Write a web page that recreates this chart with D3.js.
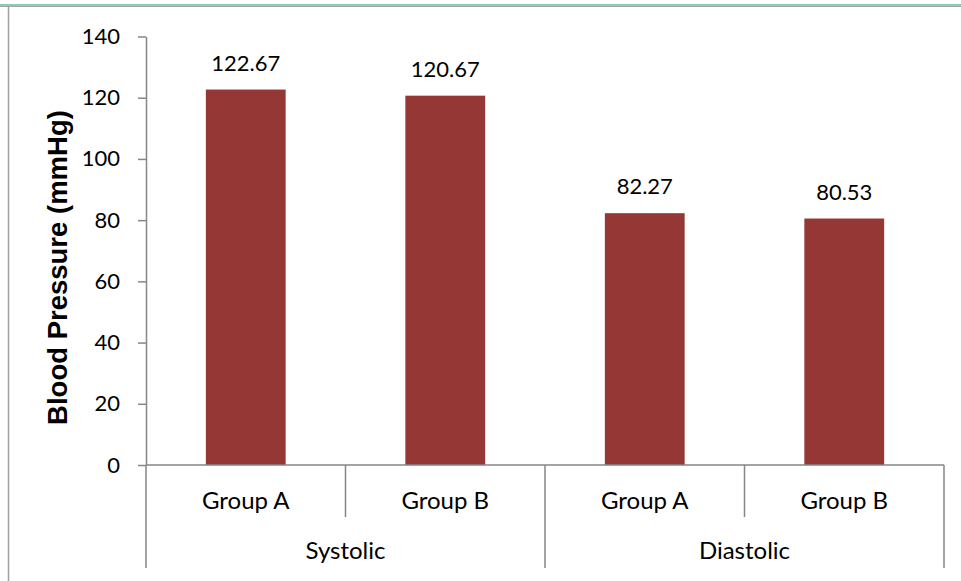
<!DOCTYPE html>
<html>
<head>
<meta charset="utf-8">
<script src="https://cdn.jsdelivr.net/npm/d3@7"></script>
<style>
  html, body { margin: 0; padding: 0; background: #fff; }
  svg { display: block; }
</style>
</head>
<body>
<svg id="chart" width="961" height="581"></svg>
<script>
// ---- data ----
const categories = ["Systolic", "Diastolic"];
const groups = ["Group A", "Group B"];
const systolicValues = [122.67, 120.67];
const diastolicValues = [82.27, 80.53];
const yTicks = [0, 20, 40, 60, 80, 100, 120, 140];
const yTitle = "Blood Pressure (mmHg)";

(function () {
const seriesByCategory = [systolicValues, diastolicValues];
const rows = [];
categories.forEach((c, ci) => groups.forEach((g, gi) => rows.push({cat: c, grp: g, key: c + "|" + g, value: seriesByCategory[ci][gi]})));

const svg = d3.select("#chart");
const W = 961, H = 581;
const plotLeft = 146, plotRight = 944, plotTop = 36.5, plotBottom = 465;
const axisColor = "#868686";
const font = "Lato, 'Open Sans', sans-serif";

// frame
svg.append("line").attr("x1", 0).attr("x2", W).attr("y1", 5).attr("y2", 5).attr("stroke", "#5fbf98").attr("stroke-width", 1.5);
svg.append("line").attr("x1", 0).attr("x2", W).attr("y1", 6.5).attr("y2", 6.5).attr("stroke", "#a6a6a6").attr("stroke-width", 1);
svg.append("line").attr("x1", 8.5).attr("x2", 8.5).attr("y1", 6).attr("y2", H).attr("stroke", "#a0a0a0").attr("stroke-width", 1.5);

const x = d3.scaleBand().domain(rows.map(d => d.key)).range([plotLeft, plotRight]).paddingInner(0.6).paddingOuter(0.3);
const xCat = d3.scaleBand().domain(categories).range([plotLeft, plotRight]);
const y = d3.scaleLinear().domain([0, 140]).range([plotBottom, plotTop]);

// bars
svg.append("g").selectAll("rect").data(rows).join("rect")
  .attr("x", d => x(d.key)).attr("width", x.bandwidth())
  .attr("y", d => y(d.value)).attr("height", d => y(0) - y(d.value))
  .attr("fill", "#953735");

// value labels
svg.append("g").selectAll("text").data(rows).join("text")
  .attr("x", d => x(d.key) + x.bandwidth() / 2)
  .attr("y", d => y(d.value) - 19)
  .attr("text-anchor", "middle")
  .attr("font-family", font).attr("font-size", 22).attr("fill", "#000")
  .text(d => d.value.toFixed(2));

// y axis
const yAxis = svg.append("g").attr("transform", `translate(${plotLeft},0)`)
  .call(d3.axisLeft(y).tickValues(yTicks).tickSize(8).tickSizeOuter(0).tickPadding(18));
yAxis.selectAll("path, line").attr("stroke", axisColor).attr("stroke-width", 1.5);
yAxis.selectAll("text").attr("font-family", font).attr("font-size", 22).attr("fill", "#000");

// x axis baseline
svg.append("line").attr("x1", plotLeft).attr("x2", plotRight).attr("y1", plotBottom).attr("y2", plotBottom)
  .attr("stroke", axisColor).attr("stroke-width", 1.5);

// inner group dividers
categories.forEach(c => {
  const mid = xCat(c) + xCat.bandwidth() / 2;
  svg.append("line").attr("x1", mid).attr("x2", mid).attr("y1", plotBottom).attr("y2", 517)
    .attr("stroke", axisColor).attr("stroke-width", 1.5);
});
// category boundaries
const bounds = categories.map(c => xCat(c)).concat([plotRight]);
svg.append("g").selectAll("line").data(bounds).join("line")
  .attr("x1", d => d).attr("x2", d => d).attr("y1", plotBottom).attr("y2", 568)
  .attr("stroke", axisColor).attr("stroke-width", 1.5);

// group labels
svg.append("g").selectAll("text").data(rows).join("text")
  .attr("x", d => x(d.key) + x.bandwidth() / 2).attr("y", 509)
  .attr("text-anchor", "middle").attr("font-family", font).attr("font-size", 24).attr("fill", "#000")
  .text(d => d.grp);

// category labels
svg.append("g").selectAll("text").data(categories).join("text")
  .attr("x", d => xCat(d) + xCat.bandwidth() / 2).attr("y", 559)
  .attr("text-anchor", "middle").attr("font-family", font).attr("font-size", 24).attr("fill", "#000")
  .text(d => d);

// y title
svg.append("text")
  .attr("transform", `translate(67,${(110 + 425) / 2}) rotate(-90)`)
  .attr("text-anchor", "middle")
  .attr("font-family", "'Liberation Sans', Arial, sans-serif").attr("font-weight", "bold").attr("font-size", 27.5)
  .attr("fill", "#000")
  .text(yTitle);
})();
</script>
</body>
</html>
